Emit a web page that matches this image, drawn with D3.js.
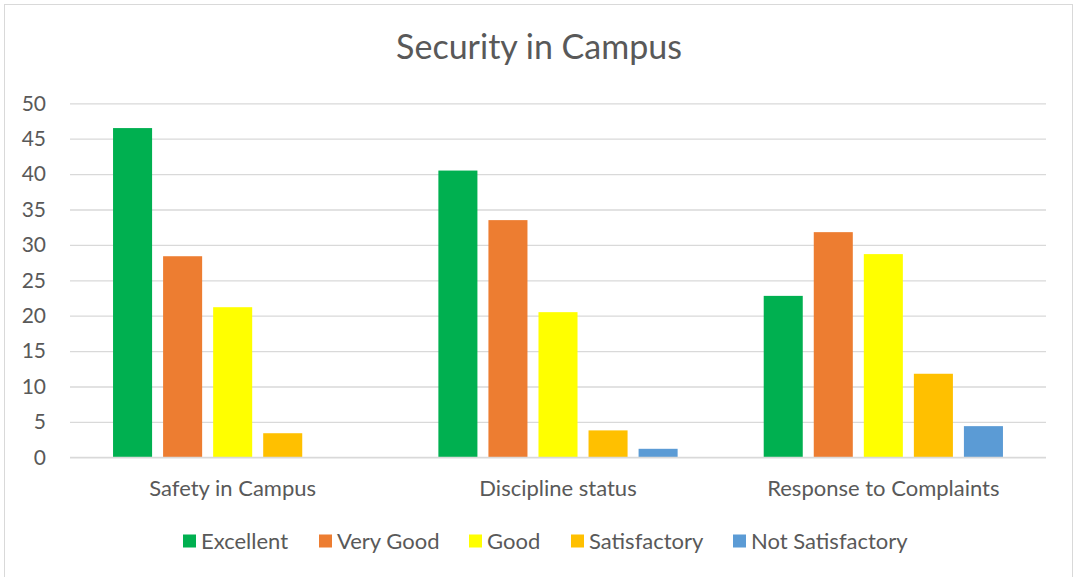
<!DOCTYPE html>
<html>
<head>
<meta charset="utf-8">
<script src="https://cdn.jsdelivr.net/npm/d3@7"></script>
<style>
  body { margin: 0; background: #fff; }
  text { font-family: Lato, "Noto Sans", sans-serif; fill: #595959; }
</style>
</head>
<body>
<div class="chart"></div>
<script>
// Chart data
const categories = ["Safety in Campus", "Discipline status", "Response to Complaints"];
const seriesNames = ["Excellent", "Very Good", "Good", "Satisfactory", "Not Satisfactory"];
const excellent = [46.5, 40.5, 22.8];
const veryGood = [28.4, 33.5, 31.8];
const good = [21.2, 20.5, 28.7];
const satisfactory = [3.4, 3.8, 11.8];
const notSatisfactory = [0, 1.2, 4.4];
const yTickValues = [0, 5, 10, 15, 20, 25, 30, 35, 40, 45, 50];

const colors = ["#00b050", "#ed7d31", "#ffff00", "#ffc000", "#5b9bd5"];
const seriesValues = [excellent, veryGood, good, satisfactory, notSatisfactory];

const width = 1074, height = 577;
const margin = {top: 103, left: 70, right: 28, bottom: 120};

const svg = d3.select(".chart").append("svg")
    .attr("width", width)
    .attr("height", height);

// outer border of chart area
svg.append("rect")
    .attr("x", 4.5).attr("y", 4.5)
    .attr("width", 1068).attr("height", 580)
    .style("fill", "none")
    .style("stroke", "#d9d9d9");

// title
svg.append("text")
    .attr("x", 539).attr("y", 59)
    .attr("text-anchor", "middle")
    .style("font-size", "34px")
    .text("Security in Campus");

const x0 = d3.scaleBand()
    .domain(categories)
    .range([margin.left, width - margin.right])
    .padding(0);

const x1 = d3.scaleBand()
    .domain(seriesNames)
    .range([0, x0.bandwidth()])
    .paddingInner(0.22)
    .paddingOuter(0.86);

const y = d3.scaleLinear()
    .domain([0, 50])
    .range([height - margin.bottom + 0.3, margin.top + 0.3]);

// gridlines
const grid = svg.append("g")
    .attr("transform", "translate(" + margin.left + ",0)")
    .call(d3.axisLeft(y)
        .tickValues(yTickValues)
        .tickSize(-(width - margin.left - margin.right))
        .tickFormat(""));
grid.select("path").remove();
grid.selectAll("line").style("stroke", "#d9d9d9").style("stroke-width", 1.3);

// y axis labels
const yAxis = svg.append("g")
    .attr("transform", "translate(" + (margin.left - 21) + ",0)")
    .call(d3.axisLeft(y).tickValues(yTickValues).tickSize(0));
yAxis.select("path").remove();
yAxis.selectAll("text")
    .style("font-size", "21px")
    .style("fill", "#595959")
    .style("font-family", "Lato, 'Noto Sans', sans-serif");

// bars
const groups = svg.append("g").selectAll("g")
    .data(categories)
    .enter().append("g")
    .attr("transform", d => "translate(" + x0(d) + ",0)");

groups.selectAll("rect")
    .data((d, i) => seriesNames.map((s, j) => ({series: s, value: seriesValues[j][i], color: colors[j]})))
    .enter().append("rect")
    .attr("x", d => x1(d.series))
    .attr("width", x1.bandwidth())
    .attr("y", d => y(d.value))
    .attr("height", d => y(0) - y(d.value))
    .style("fill", d => d.color);

// baseline over bars
svg.append("line")
    .attr("x1", margin.left).attr("x2", width - margin.right)
    .attr("y1", y(0)).attr("y2", y(0))
    .style("stroke", "#d9d9d9").style("stroke-width", 1.3);

// x axis labels
const xAxis = svg.append("g")
    .attr("transform", "translate(0," + y(0) + ")")
    .call(d3.axisBottom(x0).tickSize(0));
xAxis.select("path").remove();
xAxis.selectAll("text")
    .attr("y", 39)
    .attr("dy", 0)
    .style("font-size", "22px")
    .style("fill", "#595959")
    .style("font-family", "Lato, 'Noto Sans', sans-serif");

// legend
const legendX = [183, 319, 469, 571, 733];
const legend = svg.append("g").selectAll("g")
    .data(seriesNames)
    .enter().append("g")
    .attr("transform", (d, i) => "translate(" + legendX[i] + ",541)");
legend.append("rect")
    .attr("x", 0).attr("y", -6.5)
    .attr("width", 13).attr("height", 13)
    .style("fill", (d, i) => colors[i]);
legend.append("text")
    .attr("x", 18).attr("y", 8)
    .style("font-size", "22px")
    .text(d => d);
</script>
</body>
</html>
